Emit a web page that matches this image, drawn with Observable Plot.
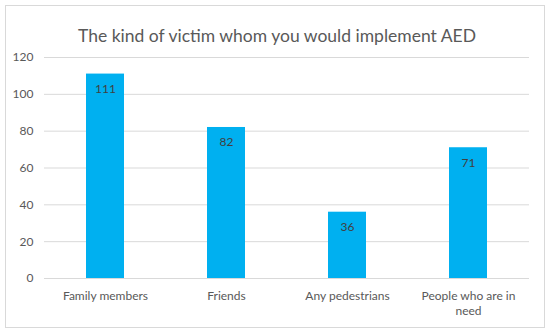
<!DOCTYPE html>
<html>
<head>
<meta charset="utf-8">
<script src="https://cdn.jsdelivr.net/npm/d3@7"></script>
<script src="https://cdn.jsdelivr.net/npm/@observablehq/plot@0.6"></script>
<style>
  body { margin: 0; background: #fff; }
  #wrap { position: relative; width: 550px; height: 334px; overflow: hidden; }
  #border { position: absolute; left: 5px; top: 5px; width: 538px; height: 321px; border: 1px solid #d9d9d9; pointer-events: none; }
  #chart { position: absolute; left: 0; top: 0; }
</style>
</head>
<body>
<div id="wrap"><div id="chart"></div><div id="border"></div></div>
<script>
const categories = ["Family members", "Friends", "Any pedestrians", "People who are in need"];
const tickLabels = ["Family members", "Friends", "Any pedestrians", "People who are in\nneed"];
const values = [111, 82, 36, 71];
const yTicks = [0, 20, 40, 60, 80, 100, 120];
const title = "The kind of victim whom you would implement AED";

const data = categories.map((c, i) => ({category: c, value: values[i]}));
const labelOf = new Map(categories.map((c, i) => [c, tickLabels[i]]));

const font = "Lato, 'Open Sans', sans-serif";

const chart = Plot.plot({
  width: 550,
  height: 334,
  marginTop: 57,
  marginBottom: 56,
  marginLeft: 44,
  marginRight: 21,
  style: {fontFamily: font, fontSize: "12px", color: "#595959", background: "transparent"},
  x: {domain: categories, paddingInner: 0.69, paddingOuter: 0.345, label: null},
  y: {domain: [0, 120], label: null},
  marks: [
    Plot.ruleY(yTicks, {stroke: "#d9d9d9", strokeWidth: 1}),
    Plot.barY(data, {x: "category", y: "value", fill: "#00b0f0"}),
    Plot.text(data, {x: "category", y: "value", text: d => String(d.value), dy: 15, fill: "#404040", fontSize: 12}),
    Plot.axisY({ticks: yTicks, tickSize: 0, tickPadding: 11, label: null, fill: "#595959", fontSize: 12}),
    Plot.axisX({tickSize: 0, tickPadding: 11, tickFormat: d => labelOf.get(d), label: null, fill: "#595959", fontSize: 12, lineHeight: 1.25}),
    Plot.text([title], {frameAnchor: "top", dx: -10, dy: -28, text: d => d, fontSize: 17.5, fill: "#595959"})
  ]
});
document.getElementById("chart").appendChild(chart);
</script>
</body>
</html>
